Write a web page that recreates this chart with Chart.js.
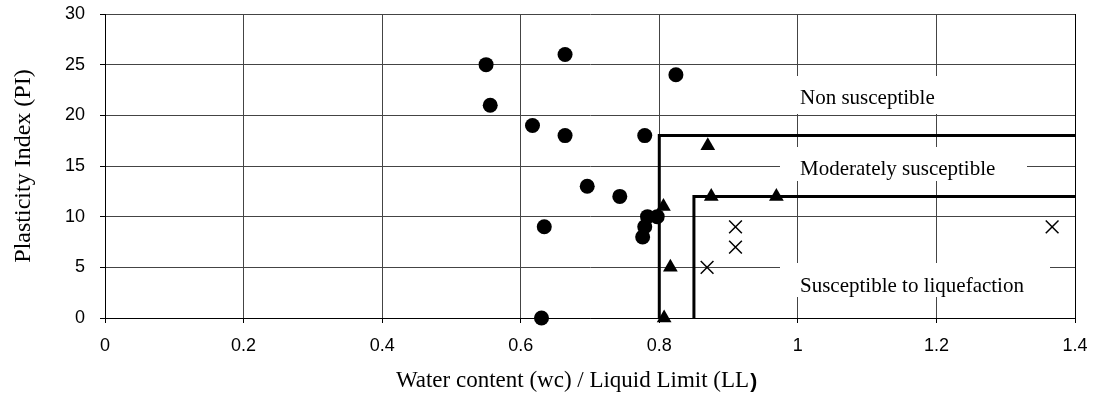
<!DOCTYPE html>
<html>
<head>
<meta charset="utf-8">
<script src="https://cdn.jsdelivr.net/npm/chart.js@4/dist/chart.umd.min.js"></script>
<style>
  html, body { margin: 0; padding: 0; background: #fff; }
  #wrap { width: 1096px; height: 393px; position: relative; }
</style>
</head>
<body>
<div id="wrap"><canvas id="c" width="1096" height="393"></canvas></div>
<script>
// ---- Data ----
const circleX = [0.550, 0.556, 0.664, 0.617, 0.664, 0.779, 0.824, 0.696, 0.743, 0.634, 0.630, 0.776, 0.779, 0.783, 0.797];
const circleY = [25, 21, 26, 19, 18, 18, 24, 13, 12, 9, 0, 8, 9, 10, 10];
const triangleX = [0.870, 0.875, 0.969, 0.806, 0.816, 0.807];
const triangleY = [17, 12, 12, 11, 5, 0];
const crossX = [0.910, 0.910, 0.869, 1.367];
const crossY = [9, 7, 5, 9];
// Boundary lines
const nonSusX = [0.80, 0.80, 1.40];
const nonSusY = [0, 18, 18];
const susX = [0.85, 0.85, 1.40];
const susY = [0, 12, 12];
// Labels
const xTitleMain = 'Water content (wc) / Liquid Limit (LL';
const xTitleEnd = ')';
const yTitle = 'Plasticity Index (PI)';
const zoneLabels = ['Non susceptible', 'Moderately susceptible', 'Susceptible to liquefaction'];

const pts = (xs, ys) => xs.map((x, i) => ({ x: x, y: ys[i] }));

const zonePlugin = {
  id: 'zones',
  beforeDatasetsDraw(chart) {
    const ctx = chart.ctx;
    const boxes = [
      { x: 780, y: 76, w: 170, h: 38, ty: 98, t: zoneLabels[0] },
      { x: 780, y: 147, w: 247, h: 34, ty: 169, t: zoneLabels[1] },
      { x: 780, y: 263, w: 270, h: 34, ty: 286, t: zoneLabels[2] }
    ];
    ctx.save();
    boxes.forEach(b => {
      ctx.fillStyle = '#fff';
      ctx.fillRect(b.x, b.y, b.w, b.h);
      ctx.fillStyle = '#000';
      ctx.font = '21px "Liberation Serif", "Times New Roman", serif';
      ctx.textBaseline = 'middle';
      ctx.textAlign = 'left';
      ctx.fillText(b.t, 800, b.ty);
    });
    ctx.restore();
  },
  afterDraw(chart) {
    const a = chart.chartArea;
    const ctx = chart.ctx;
    ctx.save();
    ctx.strokeStyle = '#000';
    ctx.lineWidth = 1;
    ctx.beginPath();
    ctx.moveTo(Math.round(a.right) + 0.5, a.top);
    ctx.lineTo(Math.round(a.right) + 0.5, a.bottom);
    ctx.stroke();
    // x-axis title (with bold closing parenthesis as in the original)
    const fMain = '23px "Liberation Serif", "Times New Roman", serif';
    const fBold = 'bold 21px "Liberation Sans", Arial, sans-serif';
    ctx.font = fMain;
    const w1 = ctx.measureText(xTitleMain).width;
    ctx.font = fBold;
    const w2 = ctx.measureText(xTitleEnd).width;
    const start = 576 - (w1 + w2) / 2;
    ctx.fillStyle = '#000';
    ctx.textBaseline = 'alphabetic';
    ctx.textAlign = 'left';
    ctx.font = fMain;
    ctx.fillText(xTitleMain, start, 387);
    ctx.font = fBold;
    ctx.fillText(xTitleEnd, start + w1 + 1, 388);
    ctx.restore();
  }
};

const gridStyle = {
  color: '#444',
  lineWidth: 1,
  borderDash: [1, 1],
  tickColor: '#000',
  tickBorderDash: [],
  tickLength: 5
};

new Chart(document.getElementById('c'), {
  type: 'scatter',
  data: {
    datasets: [
      { label: 'circles', data: pts(circleX, circleY), pointStyle: 'circle', pointRadius: 7.5, pointHoverRadius: 7.5,
        backgroundColor: '#000', borderColor: '#000', borderWidth: 0, clip: false },
      { label: 'triangles', data: pts(triangleX, triangleY), pointStyle: 'triangle', pointRadius: 8.5, pointHoverRadius: 8.5,
        backgroundColor: '#000', borderColor: '#000', borderWidth: 0, clip: false },
      { label: 'crosses', data: pts(crossX, crossY), pointStyle: 'crossRot', pointRadius: 9, pointHoverRadius: 9,
        backgroundColor: '#000', borderColor: '#000', borderWidth: 1.5, clip: false },
      { label: 'non', data: pts(nonSusX, nonSusY), showLine: true, pointRadius: 0, borderColor: '#000', borderWidth: 3, fill: false, clip: false },
      { label: 'sus', data: pts(susX, susY), showLine: true, pointRadius: 0, borderColor: '#000', borderWidth: 3, fill: false, clip: false }
    ]
  },
  options: {
    responsive: false,
    animation: false,
    events: [],
    layout: { padding: { top: 14, right: 21, left: 0, bottom: 0 } },
    plugins: { legend: { display: false }, tooltip: { enabled: false } },
    scales: {
      x: {
        type: 'linear', min: 0, max: 1.4,
        ticks: { stepSize: 0.2, padding: 12, color: '#000',
          font: { family: '"Liberation Sans", Arial, sans-serif', size: 18 },
          callback: v => String(Math.round(v * 10) / 10) },
        grid: gridStyle,
        border: { display: true, color: '#000', width: 1 },
        title: { display: false },
        afterFit: s => { s.height = 75; s.paddingLeft = 0; s.paddingRight = 0; }
      },
      y: {
        type: 'linear', min: 0, max: 30,
        ticks: { stepSize: 5, padding: 15, color: '#000',
          font: { family: '"Liberation Sans", Arial, sans-serif', size: 18 } },
        grid: gridStyle,
        border: { display: true, color: '#000', width: 1 },
        title: { display: true, text: yTitle, color: '#000', padding: { top: 9, bottom: 0 },
          font: { family: '"Liberation Serif", "Times New Roman", serif', size: 24 } },
        afterFit: s => { s.width = 105; s.paddingTop = 0; s.paddingBottom = 0; }
      }
    }
  },
  plugins: [zonePlugin]
});
</script>
</body>
</html>
